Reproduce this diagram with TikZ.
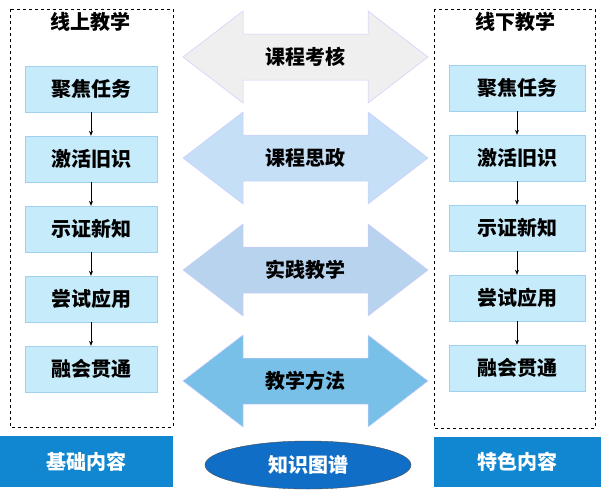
\documentclass[tikz,border=0pt]{standalone}
\usepackage{fontspec}
\setmainfont{Noto Sans CJK SC}
\usetikzlibrary{shapes.geometric,arrows.meta}
\definecolor{boxc}{HTML}{C6ECFB}
\definecolor{boxb}{HTML}{9FD0F0}
\definecolor{base}{HTML}{1087D0}
\definecolor{ell}{HTML}{106EC6}
\begin{document}
\begin{tikzpicture}[x=1pt,y=-1pt,
 stepbox/.style={draw=boxb,fill=boxc,minimum width=132pt,minimum height=46pt,font=\bfseries\fontsize{20}{22}\selectfont},
 ttl/.style={font=\bfseries\fontsize{20}{22}\selectfont},
 dbox/.style={draw,dashed,line width=0.8pt},
 conn/.style={-{Stealth[length=5pt,width=4pt]},line width=0.6pt},
 band/.style={fill=base,text=white,font=\bfseries\fontsize{20}{22}\selectfont}]
\useasboundingbox (0,0) rectangle (601,498);
\newcommand{\dbl}[2]{%
 \fill[#2,draw=blue!20,line width=0.5pt] (183,#1) -- (243,#1-46) -- (243,#1-23) -- (368,#1-23) -- (368,#1-46) -- (428,#1) -- (368,#1+46) -- (368,#1+23) -- (243,#1+23) -- (243,#1+46) -- cycle;}
\definecolor{a1}{HTML}{EFEFEF}\definecolor{a2}{HTML}{C5DFF7}
\definecolor{a3}{HTML}{B8D3EE}\definecolor{a4}{HTML}{78C0E8}
\dbl{57}{a1}
\dbl{158}{a2}
\dbl{270}{a3}
\dbl{381}{a4}
\node[ttl] (m1) at (305,57) {课程考核};
\node[ttl] (m2) at (305,158) {课程思政};
\node[ttl] (m3) at (305,270) {实践教学};
\node[ttl] (m4) at (305,381) {教学方法};
\draw[dbox] (10,9) rectangle (173,427);
\draw[dbox] (434,9) rectangle (595,428);
\node[ttl] (lt) at (90,22) {线上教学};
\node[ttl] (rt) at (515,22) {线下教学};
\foreach \t/\y [count=\i] in {聚焦任务/89,激活旧识/159,示证新知/229,尝试应用/299,融会贯通/369}{
 \node[stepbox] (l\i) at (91,\y) {\t};
 \node[stepbox,minimum width=136pt] (r\i) at (517,\y-1) {\t};}
\foreach \i/\j in {1/2,2/3,3/4,4/5}{
 \draw[conn] (l\i) -- (l\j);
 \draw[conn] (r\i) -- (r\j);}
\node[band,minimum width=173pt,minimum height=51pt] (b1) at (86.5,461.5) {基础内容};
\node[band,minimum width=167pt,minimum height=50pt] (b2) at (517.5,462) {特色内容};
\node[ellipse,fill=ell,draw=black!70,text=white,minimum width=206pt,minimum height=48pt,font=\bfseries\fontsize{20}{22}\selectfont] (k) at (308,465) {知识图谱};
\end{tikzpicture}
\end{document}
